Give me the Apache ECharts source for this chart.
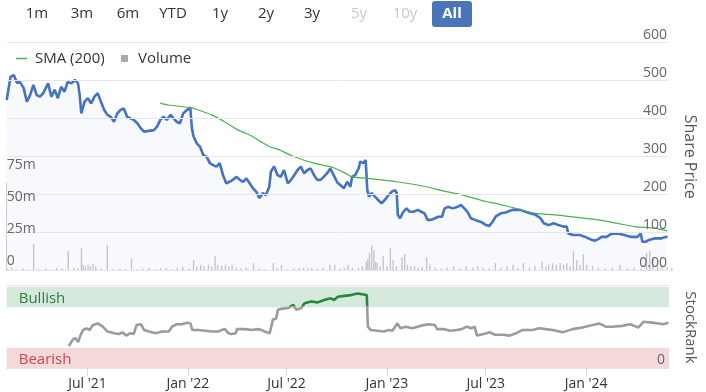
<!DOCTYPE html>
<html><head><meta charset="utf-8">
<script src="https://cdn.jsdelivr.net/npm/echarts@6/dist/echarts.min.js"></script>
<style>html,body{margin:0;padding:0;background:#fff}#c{width:706px;height:392px}</style>
</head><body><div id="c"></div>
<script>
const FONT = '"Open Sans", "Noto Sans", sans-serif';
const rangeButtons = ['1m','3m','6m','YTD','1y','2y','3y','5y','10y','All'];
const rangeButtonX = [37, 82, 128, 173, 220, 266, 312, 359, 405, 452];
const disabledButtons = ['5y','10y'];

const priceDates = ['2021-02-03','2021-02-10','2021-02-16','2021-02-22','2021-02-27','2021-03-06','2021-03-12','2021-03-18','2021-03-24','2021-03-30','2021-04-05','2021-04-11','2021-04-20','2021-04-26','2021-05-02','2021-05-08','2021-05-14','2021-05-20','2021-05-26','2021-06-02','2021-06-08','2021-06-14','2021-06-17','2021-06-20','2021-06-26','2021-07-02','2021-07-08','2021-07-14','2021-07-20','2021-07-26','2021-08-01','2021-08-07','2021-08-13','2021-08-19','2021-08-25','2021-08-31','2021-09-06','2021-09-12','2021-09-18','2021-09-24','2021-10-01','2021-10-07','2021-10-13','2021-10-22','2021-10-31','2021-11-06','2021-11-12','2021-11-18','2021-11-24','2021-12-01','2021-12-06','2021-12-12','2021-12-18','2021-12-24','2021-12-31','2022-01-06','2022-01-09','2022-01-12','2022-01-18','2022-01-24','2022-01-30','2022-02-05','2022-02-11','2022-02-17','2022-02-23','2022-03-01','2022-03-07','2022-03-13','2022-03-19','2022-03-25','2022-04-01','2022-04-07','2022-04-13','2022-04-19','2022-04-25','2022-05-01','2022-05-07','2022-05-13','2022-05-19','2022-05-25','2022-05-31','2022-06-03','2022-06-09','2022-06-15','2022-06-21','2022-06-27','2022-07-04','2022-07-10','2022-07-16','2022-07-22','2022-07-28','2022-08-03','2022-08-09','2022-08-15','2022-08-21','2022-08-27','2022-09-02','2022-09-08','2022-09-14','2022-09-20','2022-09-26','2022-10-03','2022-10-09','2022-10-15','2022-10-21','2022-10-24','2022-10-27','2022-10-30','2022-11-05','2022-11-11','2022-11-14','2022-11-20','2022-11-24','2022-11-27','2022-11-30','2022-12-05','2022-12-11','2022-12-17','2022-12-23','2022-12-29','2023-01-05','2023-01-11','2023-01-17','2023-01-20','2023-01-22','2023-01-26','2023-02-01','2023-02-07','2023-02-13','2023-02-19','2023-02-28','2023-03-06','2023-03-12','2023-03-18','2023-03-27','2023-04-06','2023-04-13','2023-04-18','2023-04-24','2023-05-03','2023-05-12','2023-05-18','2023-05-24','2023-05-30','2023-06-05','2023-06-14','2023-06-23','2023-07-03','2023-07-09','2023-07-15','2023-07-21','2023-07-30','2023-08-08','2023-08-20','2023-08-26','2023-09-04','2023-09-13','2023-09-22','2023-10-02','2023-10-11','2023-10-17','2023-10-26','2023-11-04','2023-11-13','2023-11-22','2023-11-28','2023-12-01','2023-12-10','2023-12-22','2024-01-01','2024-01-10','2024-01-19','2024-01-25','2024-01-31','2024-02-09','2024-02-18','2024-03-01','2024-03-13','2024-03-25','2024-04-06','2024-04-12','2024-04-15','2024-04-21','2024-04-27','2024-05-07','2024-05-19','2024-05-28','2024-05-31'];
const priceValues = [449,510,515,494,497,481,445,462,489,462,458,467,493,458,476,454,484,471,497,493,502,493,462,414,445,454,440,458,467,445,423,410,405,392,414,423,427,405,401,397,388,375,366,368,370,379,397,405,397,410,401,392,388,414,423,429,375,353,335,326,304,300,283,278,274,283,252,230,234,239,247,239,234,243,230,217,208,191,204,199,221,261,274,252,247,265,230,239,252,265,274,256,265,269,252,239,239,247,256,269,252,232,225,217,234,234,221,247,252,269,287,283,291,212,195,204,195,186,177,186,199,208,212,204,147,138,155,164,155,155,160,155,151,133,135,142,142,164,168,164,168,173,164,155,138,133,129,120,118,129,143,151,153,160,160,160,155,151,147,138,125,120,125,120,116,116,98,94,94,89,83,79,83,89,89,97,98,94,89,89,98,76,76,81,85,85,89,88];

const smaDates = ['2021-11-12','2021-11-27','2022-01-06','2022-01-21','2022-02-14','2022-03-10','2022-04-04','2022-04-25','2022-05-16','2022-06-03','2022-06-15','2022-07-16','2022-08-21','2022-09-26','2022-10-21','2022-10-30','2022-11-26','2023-01-20','2023-03-15','2023-04-21','2023-05-21','2023-07-03','2023-07-21','2023-08-26','2023-10-02','2023-11-07','2023-12-13','2024-01-19','2024-02-24','2024-04-01','2024-05-07','2024-05-31'];
const smaValues = [441,436,429,423,410,392,370,357,339,325,320,300,283,271,254,247,243,234,221,208,199,182,177,164,151,147,141,135,126,116,112,105];

const volumeDates = ['2021-02-05','2021-02-12','2021-02-20','2021-03-05','2021-03-15','2021-03-24','2021-04-02','2021-04-15','2021-04-24','2021-05-05','2021-05-15','2021-05-26','2021-06-05','2021-06-12','2021-06-19','2021-06-22','2021-06-26','2021-07-01','2021-07-05','2021-07-10','2021-07-15','2021-07-25','2021-08-05','2021-08-15','2021-08-28','2021-09-08','2021-09-18','2021-09-28','2021-10-08','2021-10-20','2021-11-01','2021-11-10','2021-11-20','2021-12-01','2021-12-10','2021-12-20','2022-01-01','2022-01-09','2022-01-15','2022-01-22','2022-01-28','2022-02-05','2022-02-11','2022-02-17','2022-02-22','2022-03-01','2022-03-08','2022-03-14','2022-03-20','2022-03-28','2022-04-05','2022-04-15','2022-04-28','2022-05-08','2022-05-18','2022-06-03','2022-06-10','2022-06-18','2022-06-28','2022-07-10','2022-07-20','2022-07-28','2022-08-05','2022-08-12','2022-08-22','2022-09-01','2022-09-14','2022-09-23','2022-10-02','2022-10-10','2022-10-17','2022-10-25','2022-11-05','2022-11-12','2022-11-19','2022-11-22','2022-11-25','2022-11-29','2022-12-03','2022-12-06','2022-12-09','2022-12-14','2022-12-20','2022-12-27','2023-01-02','2023-01-07','2023-01-13','2023-01-23','2023-01-28','2023-02-02','2023-02-08','2023-02-15','2023-02-22','2023-03-01','2023-03-09','2023-03-15','2023-03-25','2023-04-05','2023-04-15','2023-04-27','2023-05-08','2023-05-20','2023-06-01','2023-06-10','2023-06-20','2023-07-01','2023-07-12','2023-07-22','2023-08-02','2023-08-13','2023-08-22','2023-09-01','2023-09-12','2023-09-22','2023-10-05','2023-10-12','2023-10-17','2023-10-24','2023-10-31','2023-11-07','2023-11-13','2023-11-19','2023-11-25','2023-12-01','2023-12-07','2023-12-13','2023-12-19','2023-12-25','2024-01-05','2024-01-15','2024-01-28','2024-02-10','2024-02-24','2024-03-08','2024-03-20','2024-04-02','2024-04-12','2024-04-18','2024-04-24','2024-05-02','2024-05-10','2024-05-20','2024-05-28'];
const volumeValues = [1.5,2,1,1.5,1,18,1,1.5,1,2,1.5,13,2,1.5,15,4,3,4,3,4.5,3,1.5,17,1,1.5,1,8,1,1.5,2,1,1.5,2,1,2,2.5,1.5,7,3,4,3,4,3,10,4,3.5,4,3,4,2,1.5,2,5,1.5,1,5,2,4,1,1.5,2,2,1.5,2,1.5,2,4,4,1.5,2,4,2,2,3,6,8,12,17,14,6,5,3,10,3,15,7,3,9,11,4,3,3,2,2.5,9,4,2,1.5,2,3,1.5,3,2,3,2,1.5,5,2,3,4,2,5,2,3,6,3,4,5,4,5,4,5,3,13,7,4,11,4,3,2,1.5,2,4,1.5,2,1.5,12,13,9,3,3,2.5,2];

const rankDates = ['2021-05-28','2021-06-04','2021-06-09','2021-06-14','2021-06-18','2021-06-23','2021-06-29','2021-07-05','2021-07-11','2021-07-20','2021-07-29','2021-08-07','2021-08-19','2021-08-28','2021-09-03','2021-09-10','2021-09-18','2021-09-24','2021-09-29','2021-10-07','2021-10-13','2021-10-22','2021-11-03','2021-11-15','2021-11-27','2021-12-03','2021-12-12','2021-12-21','2021-12-31','2022-01-06','2022-01-09','2022-01-21','2022-02-02','2022-02-14','2022-02-26','2022-03-04','2022-03-10','2022-03-16','2022-03-22','2022-03-30','2022-04-01','2022-04-16','2022-04-28','2022-05-10','2022-05-16','2022-05-22','2022-05-31','2022-06-03','2022-06-06','2022-06-12','2022-06-15','2022-06-21','2022-07-04','2022-07-13','2022-07-19','2022-07-28','2022-08-03','2022-08-15','2022-08-27','2022-09-08','2022-09-20','2022-09-26','2022-10-03','2022-10-15','2022-10-27','2022-11-08','2022-11-17','2022-11-25','2022-11-27','2022-12-02','2022-12-14','2022-12-26','2023-01-05','2023-01-11','2023-01-20','2023-01-26','2023-02-04','2023-02-16','2023-03-03','2023-03-18','2023-03-30','2023-04-03','2023-04-15','2023-04-27','2023-05-09','2023-05-18','2023-05-27','2023-06-05','2023-06-11','2023-06-15','2023-06-27','2023-07-09','2023-07-18','2023-08-02','2023-08-14','2023-08-26','2023-09-07','2023-09-25','2023-10-07','2023-10-19','2023-11-01','2023-11-19','2023-12-07','2023-12-25','2024-01-13','2024-01-25','2024-02-06','2024-02-18','2024-03-07','2024-03-22','2024-04-06','2024-04-15','2024-05-01','2024-05-13','2024-05-22','2024-05-31'];
const rankValues = [27,35,37,32,40,47,49,47,53,55,51,45,43,42,44,40,43,42,53,54,47,45,43,45,45,51,54,54,56,55,47,47,46,45,45,47,48,43,42,43,48,48,47,48,47,45,43,51,60,61,72,73,74,78,72,74,80,82,81,84,86,84,88,89,90,92,91,90,51,47,46,45,47,46,55,49,51,49,52,54,53,48,48,46,47,48,51,49,51,40,42,44,41,41,40,43,47,47,49,48,47,44,48,50,53,55,51,51,52,54,50,57,56,55,54,56];

const xTickDates = ['2021-07-01','2022-01-01','2022-07-01','2023-01-01','2023-07-01','2024-01-01'];
const xTickLabels = ["Jul '21","Jan '22","Jul '22","Jan '23","Jul '23","Jan '24"];
const priceTicks = [0,100,200,300,400,500,600];
const volumeTicks = [0,25,50,75];
const rankTicks = [0];
const rankBands = {bearish:[0,25], bullish:[75,100]};
const bullishThreshold = 76;

const t = s => { const p = s.split('-').map(Number); return new Date(p[0], p[1]-1, p[2]).getTime(); };
const zip = (d, v) => d.map((s, i) => [t(s), v[i]]);
const X_MIN = t('2021-02-03'), X_MAX = t('2024-06-01');
const tickTimes = xTickDates.map(t);

const chart = echarts.init(document.getElementById('c'), null, {renderer:'canvas'});

const graphics = [{type:'rect', shape:{x:432, y:1, width:40, height:26, r:3}, style:{fill:'#4a76b9'}}];
rangeButtons.forEach((b, i) => {
  const isAll = b === 'All';
  graphics.push({type:'text', x: rangeButtonX[i], y: 14, style:{text:b, font:(isAll?'bold ':'')+'15px '+FONT,
    fill: isAll ? '#fff' : (disabledButtons.includes(b) ? '#c8c8c8' : '#333'), align:'center', verticalAlign:'middle', textAlign:'center', textVerticalAlign:'middle'}});
});

const hiddenX = (gi) => ({type:'value', gridIndex:gi, min:X_MIN, max:X_MAX, show:false, splitLine:{show:false}});

const rankData = zip(rankDates, rankValues);

const option = {
  animation:false,
  textStyle:{fontFamily:FONT},
  graphic: graphics,
  legend:[
    {data:[{name:'SMA (200)', icon:'rect'}], left:16, top:51, padding:0, itemWidth:11, itemHeight:1.5, textStyle:{fontSize:15, color:'#333', fontFamily:FONT, padding:[0,0,0,3]}},
    {data:[{name:'Volume', icon:'rect', itemStyle:{color:'#aaa'}}], left:121, top:51, padding:0, itemWidth:7, itemHeight:7, textStyle:{fontSize:15, color:'#333', fontFamily:FONT, padding:[0,0,0,5]}}
  ],
  grid:[
    {left:6.7, right:32, top:42.7, bottom:121.3},
    {left:6.7, right:32, top:183, bottom:121.3},
    {left:6.7, right:32, top:287, bottom:24}
  ],
  xAxis:[
    hiddenX(0),
    hiddenX(1),
    {type:'value', gridIndex:2, min:X_MIN, max:X_MAX,
      axisLine:{show:true, lineStyle:{color:'#e3e3e3'}},
      axisTick:{show:true, customValues:tickTimes, length:8, lineStyle:{color:'#d8d8d8'}},
      axisLabel:{customValues:tickTimes, margin:9, fontSize:14, color:'#333', fontFamily:FONT, showMinLabel:true, showMaxLabel:true,
        formatter: v => { const i = tickTimes.indexOf(v); return i >= 0 ? xTickLabels[i] : ''; }},
      splitLine:{show:false}},
    {type:'value', gridIndex:2, min:X_MIN, max:X_MAX, position:'top', offset:2,
      axisLine:{show:true, lineStyle:{color:'#e6e6e6'}}, axisTick:{show:false}, axisLabel:{show:false}, splitLine:{show:false}}
  ],
  yAxis:[
    {type:'value', gridIndex:0, position:'right', min:0, max:600, interval:100, z:10,
      name:'Share Price', nameLocation:'middle', nameRotate:-90, nameGap:14,
      nameTextStyle:{fontSize:16, color:'#555', fontFamily:FONT},
      axisLine:{show:false}, axisTick:{show:false},
      axisLabel:{inside:true, margin:1, fontSize:14, color:'#666', fontFamily:FONT, verticalAlign:'bottom', lineHeight:16,
        formatter: v => v === 0 ? '0.00' : String(v)},
      splitLine:{show:true, lineStyle:{color:'#e6e6e6', width:1}}},
    {type:'value', gridIndex:0, position:'left', min:-7.58, max:170.5, z:10,
      axisLine:{show:false}, axisTick:{show:false}, splitLine:{show:false},
      axisLabel:{inside:true, margin:0, fontSize:14, color:'#666', fontFamily:FONT, verticalAlign:'middle', showMinLabel:true, showMaxLabel:true,
        customValues: volumeTicks, formatter: v => v === 0 ? '0' : v + 'm'}},
    {type:'value', gridIndex:1, position:'left', min:0, max:58.5,
      axisLine:{show:true, lineStyle:{color:'#d0d0d0'}}, axisTick:{show:false}, axisLabel:{show:false}, splitLine:{show:false}},
    {type:'value', gridIndex:2, position:'right', min:0, max:100, z:10,
      name:'StockRank', nameLocation:'middle', nameRotate:-90, nameGap:14,
      nameTextStyle:{fontSize:15, color:'#555', fontFamily:FONT},
      axisLine:{show:false}, axisTick:{show:false}, splitLine:{show:false},
      axisLabel:{inside:true, margin:4, fontSize:14, color:'#666', fontFamily:FONT, verticalAlign:'bottom', lineHeight:16,
        showMinLabel:true, showMaxLabel:true, customValues:rankTicks, formatter: v => String(v)}}
  ],
  visualMap:[{type:'piecewise', show:false, seriesIndex:3, dimension:1,
    pieces:[{gt:bullishThreshold, lte:1000, color:'#24893b'}, {gte:-1000, lte:bullishThreshold, color:'#9b9b9b'}]}],
  series:[
    {name:'Price', type:'line', xAxisIndex:0, yAxisIndex:0, data:zip(priceDates, priceValues), symbol:'none',
      lineStyle:{color:'#4472c4', width:2.6}, itemStyle:{color:'#4472c4'}, areaStyle:{color:'rgba(68,114,196,0.06)'}, z:2},
    {name:'Volume', type:'bar', xAxisIndex:1, yAxisIndex:2, data:zip(volumeDates, volumeValues), barWidth:1.4,
      itemStyle:{color:'#c6c6c6'}, z:3},
    {name:'SMA (200)', type:'line', xAxisIndex:0, yAxisIndex:0, data:zip(smaDates, smaValues), symbol:'none', smooth:0.3,
      lineStyle:{color:'#4caf50', width:1.2}, itemStyle:{color:'#4caf50'}, z:4},
    {name:'StockRank', type:'line', xAxisIndex:2, yAxisIndex:3, data:rankData, symbol:'none',
      lineStyle:{width:2.6}, z:3,
      markArea:{silent:true, z:1, data:[
        [{yAxis:rankBands.bullish[0], itemStyle:{color:'#d4e8dc'},
          label:{show:true, formatter:'Bullish', position:'insideBottomLeft', distance:2, offset:[10,1], fontSize:15, color:'#2f7d3a', fontFamily:FONT}},
         {yAxis:rankBands.bullish[1]}],
        [{yAxis:rankBands.bearish[0], itemStyle:{color:'#f4d9da'},
          label:{show:true, formatter:'Bearish', position:'insideBottomLeft', distance:2, offset:[10,1], fontSize:15, color:'#d0454f', fontFamily:FONT}},
         {yAxis:rankBands.bearish[1]}]
      ]}}
  ]
};
chart.setOption(option);
</script>
</body></html>
